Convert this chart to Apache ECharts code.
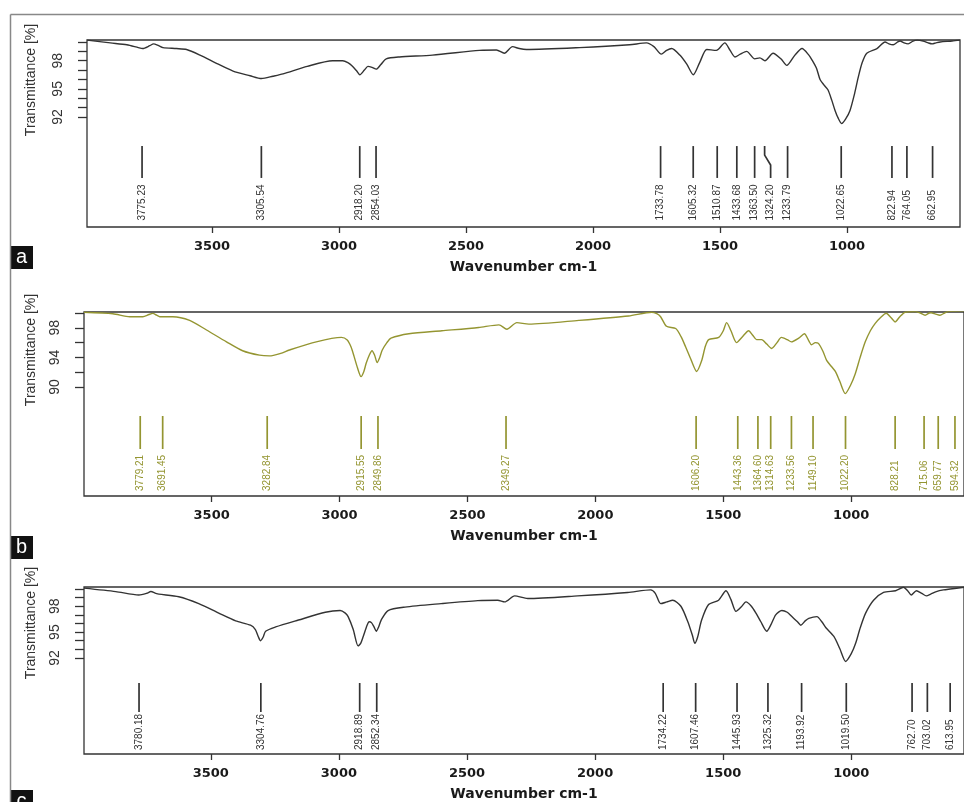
<!DOCTYPE html>
<html><head><meta charset="utf-8">
<script src="https://cdn.jsdelivr.net/npm/echarts@6/dist/echarts.min.js"></script>
<style>html,body{margin:0;padding:0;background:#fff}#c{width:964px;height:802px}</style>
</head><body><div id="c"></div>
<script>
// ---------- DATA ----------
const xTicks = [1000, 1500, 2000, 2500, 3000, 3500];
const yTicksAC = [92, 93, 94, 95, 96, 97, 98, 99, 100];
const yLabelsAC = [92, 95, 98];
const yTicksB = [90, 92, 94, 96, 98, 100];
const yLabelsB = [90, 94, 98];

const waveA = [3992,3900,3835,3790,3773,3745,3730,3710,3693,3640,3600,3547,3480,3417,3350,3305,3260,3220,3125,3025,2985,2965,2950,2930,2918,2900,2886,2870,2853,2835,2814,2762,2632,2447,2380,2349,2317,2290,2262,2053,1856,1789,1760,1731,1710,1690,1658,1630,1605,1580,1552,1514,1481,1460,1441,1420,1395,1363,1343,1323,1291,1260,1237,1205,1177,1150,1138,1120,1106,1090,1075,1060,1047,1035,1021,1005,988,970,955,940,922,882,850,835,818,800,791,775,759,740,724,700,680,665,650,633,586,555];
const transA = [100.2,99.9,99.7,99.4,99.3,99.6,99.8,99.6,99.4,99.3,99.2,98.6,97.7,96.9,96.4,96.1,96.35,96.6,97.4,98.0,98.0,97.8,97.5,96.9,96.5,97.0,97.4,97.3,97.1,97.6,98.2,98.4,98.6,99.1,99.15,98.8,99.5,99.3,99.2,99.4,99.7,99.9,99.5,98.7,99.1,99.3,98.6,97.6,96.5,97.8,99.2,99.1,99.9,99.1,98.4,98.7,99.0,98.2,98.3,98.0,98.8,98.2,97.5,98.6,99.3,98.6,98.1,97.2,96.0,95.4,94.9,93.8,92.7,91.9,91.3,91.8,92.7,94.5,96.3,97.8,98.8,99.3,100.0,99.8,99.7,100.0,100.1,99.9,99.8,100.1,100.2,100.1,99.9,99.8,99.9,100.0,100.1,100.2];

const waveB = [3999,3886,3820,3769,3745,3730,3715,3703,3652,3586,3520,3442,3379,3313,3274,3230,3196,3091,2993,2970,2955,2943,2930,2916,2905,2896,2884,2873,2863,2853,2843,2833,2815,2799,2729,2600,2456,2377,2346,2307,2260,2065,1870,1780,1760,1745,1722,1686,1665,1647,1625,1604,1585,1570,1557,1518,1500,1487,1470,1448,1425,1401,1385,1370,1350,1330,1311,1290,1273,1250,1234,1205,1183,1165,1155,1140,1128,1110,1096,1078,1062,1045,1023,1003,984,965,945,925,906,885,863,845,828,810,789,750,730,711,695,688,670,653,635,622,559];
const transB = [100.1,99.9,99.5,99.5,99.8,99.95,99.7,99.5,99.5,99.0,97.7,96.1,94.9,94.3,94.2,94.55,95.0,96.1,96.7,96.35,95.4,94.1,92.6,91.4,92.1,93.2,94.3,94.9,94.3,93.3,94.0,95.0,96.0,96.6,97.2,97.6,98.05,98.4,97.8,98.7,98.5,99.0,99.6,100.1,99.9,99.5,98.2,97.9,96.8,95.4,93.6,92.1,93.5,95.5,96.4,96.7,97.6,98.7,97.6,96.0,96.8,97.6,97.0,96.4,96.4,95.8,95.2,96.0,96.7,96.4,96.1,96.6,97.2,96.2,95.7,96.0,95.9,94.8,93.6,92.8,92.1,90.8,89.1,90.2,91.8,94.0,96.1,97.6,98.6,99.4,99.96,99.4,98.8,99.5,100.1,100.2,100.0,99.7,100.0,100.04,99.85,99.7,100.0,100.2,100.3];

const waveC = [3995,3871,3781,3750,3734,3715,3703,3625,3547,3469,3403,3345,3326,3315,3306,3296,3286,3247,3158,3053,2995,2975,2964,2944,2925,2915,2905,2890,2882,2873,2863,2854,2845,2835,2808,2742,2601,2458,2380,2353,2314,2263,2068,1873,1783,1765,1744,1720,1697,1665,1638,1620,1611,1600,1584,1557,1518,1489,1470,1450,1430,1411,1390,1372,1353,1330,1313,1295,1271,1250,1232,1210,1197,1180,1166,1134,1115,1099,1068,1045,1022,1000,983,965,944,913,874,827,796,780,766,746,725,707,690,668,640,614,560];
const transC = [100.1,99.7,99.3,99.5,99.7,99.5,99.4,99.1,98.3,97.2,96.3,95.8,95.3,94.5,94.0,94.4,95.1,95.6,96.4,97.3,97.5,97.2,96.8,95.3,93.4,93.7,94.5,95.8,96.2,96.1,95.6,95.1,95.6,96.4,97.5,97.9,98.3,98.65,98.7,98.5,99.2,98.9,99.2,99.6,99.9,99.5,98.3,98.5,98.7,98.0,96.2,94.6,93.7,94.4,96.4,98.2,98.7,99.8,98.8,97.4,97.9,98.5,98.0,97.2,96.2,95.1,95.9,97.0,97.5,97.3,96.8,96.2,95.8,96.3,96.6,96.8,96.2,95.5,94.5,93.1,91.6,92.5,93.7,95.5,97.2,98.7,99.6,99.8,100.2,99.8,99.3,99.8,99.5,99.2,99.4,99.7,99.9,100.0,100.2];

const peaksA = [3775.23, 3305.54, 2918.20, 2854.03, 1733.78, 1605.32, 1510.87, 1433.68, 1363.50, 1324.20, 1233.79, 1022.65, 822.94, 764.05, 662.95];
const peaksB = [3779.21, 3691.45, 3282.84, 2915.55, 2849.86, 2349.27, 1606.20, 1443.36, 1364.60, 1314.63, 1233.56, 1149.10, 1022.20, 828.21, 715.06, 659.77, 594.32];
const peaksC = [3780.18, 3304.76, 2918.89, 2852.34, 1734.22, 1607.46, 1445.93, 1325.32, 1193.92, 1019.50, 762.70, 703.02, 613.95];

// ---------- LAYOUT / STYLE ----------
const panels = [
  {grid:{left:87, top:40, width:873, height:187}, x:[555,3992], y:[80.27,100.21], yTicks:yTicksAC, yLabels:yLabelsAC,
   wave:waveA, trans:transA, peaks:peaksA, color:'#333333', peakY:{top:88.9, bot:85.5, lab:80.95}, shift:{'1324.2':6}, nameY:80, letter:'a', letterY:246},
  {grid:{left:84, top:312, width:882, height:184}, x:[559,3999], y:[75.27,100.135], yTicks:yTicksB, yLabels:yLabelsB,
   wave:waveB, trans:transB, peaks:peaksB, color:'#949531', peakY:{top:86.08, bot:81.62, lab:75.95}, shift:{}, nameY:350, letter:'b', letterY:536},
  {grid:{left:84, top:587, width:882, height:167}, x:[560,3995], y:[80.87,100.23], yTicks:yTicksAC, yLabels:yLabelsAC,
   wave:waveC, trans:transC, peaks:peaksC, color:'#333333', peakY:{top:89.1, bot:85.74, lab:81.33}, shift:{}, nameY:623, letter:'c', letterY:790}
];

const axisColor = '#333';
const hFont = 'DejaVu Sans';
const option = {animation:false, backgroundColor:'#fff', grid:[], xAxis:[], yAxis:[], series:[], graphic:[]};

panels.forEach((p, i) => {
  option.grid.push(Object.assign({show:true, borderColor:axisColor, borderWidth:1.3, backgroundColor:'transparent'}, p.grid));
  option.xAxis.push({
    gridIndex:i, type:'value', inverse:true, min:p.x[0], max:p.x[1],
    axisLine:{show:false}, splitLine:{show:false},
    axisTick:{show:true, customValues:xTicks, length:6, lineStyle:{color:axisColor, width:1.3}},
    axisLabel:{show:true, customValues:xTicks, margin:13, color:'#1a1a1a', fontFamily:hFont, fontWeight:'bold', fontSize:13,
               formatter:v => String(v)},
    name:'Wavenumber cm-1', nameLocation:'middle', nameGap:33,
    nameTextStyle:{color:'#1a1a1a', fontFamily:hFont, fontWeight:'bold', fontSize:14}
  });
  option.yAxis.push({
    gridIndex:i, type:'value', min:p.y[0], max:p.y[1],
    axisLine:{show:false}, splitLine:{show:false},
    axisTick:{show:true, customValues:p.yTicks, length:9, lineStyle:{color:axisColor, width:1.3}},
    axisLabel:{show:true, customValues:p.yLabels, rotate:90, margin:22, color:'#333', fontFamily:'Liberation Sans', fontSize:14,
               formatter:v => String(v)}
  });
  option.series.push({
    type:'line', xAxisIndex:i, yAxisIndex:i, showSymbol:false, smooth:0.25,
    lineStyle:{color:p.color, width:1.4}, data:p.wave.map((w, k) => [w, p.trans[k]])
  });
  option.series.push({
    type:'custom', xAxisIndex:i, yAxisIndex:i, clip:false,
    data:p.peaks.map(v => [v, p.peakY.top]),
    renderItem:(params, api) => {
      const w = api.value(0);
      const top = api.coord([w, p.peakY.top]);
      const bot = api.coord([w, p.peakY.bot]);
      const lab = api.coord([w, p.peakY.lab]);
      const s = p.shift[String(w)] || 0;
      const pts = s ? [[top[0], top[1]], [top[0], top[1] + 9], [top[0] + s, top[1] + 19], [top[0] + s, bot[1]]]
                    : [[top[0], top[1]], [bot[0], bot[1]]];
      return {type:'group', children:[
        {type:'polyline', shape:{points:pts}, style:{stroke:p.color, lineWidth:1.7, fill:null}},
        {type:'text', x:lab[0] + s, y:lab[1], rotation:Math.PI / 2,
         style:{text:w.toFixed(2), fill:p.color, fontFamily:'Liberation Sans', fontSize:10, align:'left', verticalAlign:'middle'}}
      ]};
    }
  });
  option.graphic.push({type:'text', x:31, y:p.nameY, rotation:Math.PI / 2,
    style:{text:'Transmittance [%]', fill:'#333', fontFamily:'Liberation Sans', fontSize:14, align:'center', verticalAlign:'middle'}});
  option.graphic.push({type:'rect', shape:{x:10, y:p.letterY, width:23, height:23}, style:{fill:'#111'}});
  option.graphic.push({type:'text', x:21.5, y:p.letterY + 11.5,
    style:{text:p.letter, fill:'#fff', fontFamily:'Liberation Sans', fontSize:20, align:'center', verticalAlign:'middle'}});
});
option.graphic.push({type:'line', shape:{x1:10.5, y1:14.5, x2:964, y2:14.5}, style:{stroke:'#888', lineWidth:1.5}});
option.graphic.push({type:'line', shape:{x1:10.5, y1:14.5, x2:10.5, y2:802}, style:{stroke:'#888', lineWidth:1.5}});

const chart = echarts.init(document.getElementById('c'), null, {renderer:'canvas'});
chart.setOption(option);
</script></body></html>
